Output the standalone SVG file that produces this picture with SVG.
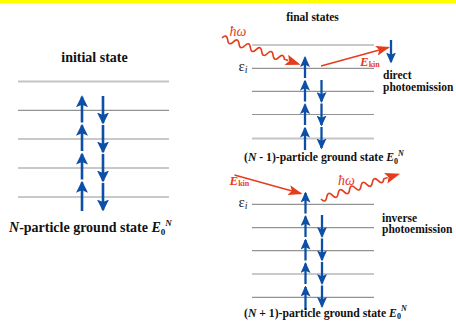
<svg xmlns="http://www.w3.org/2000/svg" width="456" height="321" viewBox="0 0 456 321">
<style>
.lv{stroke:#939393;stroke-width:1.2;fill:none}
.lv2{stroke:#c4c4c4;stroke-width:1.8;fill:none}
.bl{stroke:#0d4fa6;stroke-width:2.6;fill:none}
.bs{stroke:#0d4fa6;stroke-width:2.3;fill:none}
.rd{stroke:#e63c1e;stroke-width:1.6;fill:none}
.t{font-family:"Liberation Serif",serif;font-weight:bold;fill:#111}
.ti{font-style:italic}
.r{font-family:"Liberation Serif",serif;fill:#e63c1e;font-style:italic}
.eps{font-family:"Liberation Serif",serif;fill:#222;font-size:15px}
</style>
<defs>
<marker id="bh" markerUnits="userSpaceOnUse" markerWidth="12" markerHeight="12" refX="10.5" refY="6" orient="auto" viewBox="0 0 12 12">
<path d="M0,0 L12,6 L0,12 L2.5,6 Z" fill="#0d4fa6"/>
</marker>
<marker id="bhs" markerUnits="userSpaceOnUse" markerWidth="11" markerHeight="10" refX="9.5" refY="5" orient="auto" viewBox="0 0 11 10">
<path d="M0,0 L11,5 L0,10 L2.2,5 Z" fill="#0d4fa6"/>
</marker>
<marker id="rh" markerUnits="userSpaceOnUse" markerWidth="14" markerHeight="10" refX="12.5" refY="5" orient="auto" viewBox="0 0 14 10">
<path d="M0,0 L14,5 L0,10 L3,5 Z" fill="#e63c1e"/>
</marker>
</defs>
<rect x="0" y="0" width="456" height="3.3" fill="#ffff00"/>

<g id="initial-state">
<text class="t" x="94.5" y="62" font-size="14" text-anchor="middle">initial state</text>
<line class="lv2" x1="18" y1="81.5" x2="169" y2="81.5"/>
<line class="lv" x1="18" y1="110.3" x2="169" y2="110.3"/>
<line class="lv" x1="18" y1="139" x2="169" y2="139"/>
<line class="lv" x1="18" y1="168" x2="169" y2="168"/>
<line class="lv" x1="18" y1="197" x2="169" y2="197"/>
<g class="bl" marker-end="url(#bh)">
<line x1="82" y1="122.5" x2="82" y2="96.7"/>
<line x1="82" y1="151" x2="82" y2="125.3"/>
<line x1="82" y1="179.5" x2="82" y2="154"/>
<line x1="82" y1="211" x2="82" y2="182.3"/>
<line x1="103" y1="96" x2="103" y2="123"/>
<line x1="103" y1="125" x2="103" y2="152"/>
<line x1="103" y1="154" x2="103" y2="181"/>
<line x1="103" y1="183" x2="103" y2="210"/>
</g>
<text class="t" x="9" y="231.5" font-size="14"><tspan class="ti">N</tspan>-particle ground state <tspan class="ti">E</tspan><tspan font-size="9" dy="3">0</tspan><tspan class="ti" font-size="9" dy="-9">N</tspan></text>
</g>

<g id="direct-photoemission">
<text class="t" x="312.5" y="21" font-size="11.5" text-anchor="middle">final states</text>
<line class="lv" x1="252" y1="45" x2="374" y2="45"/>
<line class="lv" x1="252" y1="68.3" x2="374" y2="68.3"/>
<line class="lv" x1="252" y1="91.3" x2="374" y2="91.3"/>
<line class="lv" x1="252" y1="114.5" x2="374" y2="114.5"/>
<line class="lv2" x1="252" y1="138.5" x2="374" y2="138.5"/>
<text class="eps" x="238.5" y="70.5">ε<tspan font-size="10" font-style="italic" dy="2">i</tspan></text>
<g class="bs" marker-end="url(#bhs)">
<line x1="305" y1="78" x2="305" y2="57.5"/>
<line x1="305" y1="101.5" x2="305" y2="81"/>
<line x1="305" y1="125" x2="305" y2="104.5"/>
<line x1="305" y1="150" x2="305" y2="128"/>
<line x1="321.5" y1="80" x2="321.5" y2="101.5"/>
<line x1="321.5" y1="103.5" x2="321.5" y2="125"/>
<line x1="321.5" y1="127" x2="321.5" y2="148"/>
<line x1="391" y1="40" x2="391" y2="62"/>
</g>
<g transform="translate(222,38) rotate(18.8)">
<path class="rd" d="M0,0 Q3,-6 6,0 T12,0 T18,0 T24,0 T30,0 T36,0 T42,0 T48,0 T54,0 T60,0 T66,0 L70,0"/>
<path d="M83,0 L68,-5.5 L71,0 L68,5.5 Z" fill="#e63c1e"/>
</g>
<text class="r" x="229.5" y="36" font-size="14">ħω</text>
<line class="rd" x1="321" y1="66" x2="388.5" y2="47.5" marker-end="url(#rh)"/>
<text class="r" x="360" y="65.5" font-size="13" font-weight="bold">E<tspan font-size="8" font-style="normal" dy="1">kin</tspan></text>
<text class="t" x="383" y="78.5" font-size="11.5">direct</text>
<text class="t" x="383" y="90.5" font-size="11.5">photoemission</text>
<text class="t" x="244" y="161" font-size="11.7">(<tspan class="ti">N</tspan> - 1)-particle ground state <tspan class="ti">E</tspan><tspan font-size="8" dy="2.5">0</tspan><tspan class="ti" font-size="8" dy="-8">N</tspan></text>
</g>

<g id="inverse-photoemission">
<line class="lv" x1="252" y1="204.3" x2="374" y2="204.3"/>
<line class="lv" x1="252" y1="227.7" x2="374" y2="227.7"/>
<line class="lv" x1="252" y1="250.7" x2="374" y2="250.7"/>
<line class="lv" x1="252" y1="274" x2="374" y2="274"/>
<line class="lv" x1="252" y1="297.3" x2="374" y2="297.3"/>
<text class="eps" x="238.5" y="206.5">ε<tspan font-size="10" font-style="italic" dy="2">i</tspan></text>
<g class="bs" marker-end="url(#bhs)">
<line x1="305.5" y1="213.5" x2="305.5" y2="193"/>
<line x1="305.5" y1="237" x2="305.5" y2="216.5"/>
<line x1="305.5" y1="260.5" x2="305.5" y2="240"/>
<line x1="305.5" y1="284" x2="305.5" y2="263.5"/>
<line x1="305.5" y1="310" x2="305.5" y2="287"/>
<line x1="322" y1="215" x2="322" y2="236.5"/>
<line x1="322" y1="238.5" x2="322" y2="260"/>
<line x1="322" y1="262" x2="322" y2="283.5"/>
<line x1="322" y1="285.5" x2="322" y2="306.5"/>
</g>
<line class="rd" x1="234.5" y1="175" x2="301" y2="193.5" marker-end="url(#rh)"/>
<text class="r" x="229.5" y="185" font-size="13" font-weight="bold">E<tspan font-size="8" font-style="normal" dy="1">kin</tspan></text>
<g transform="translate(321,199) rotate(-17.8)">
<path class="rd" d="M0,0 Q3,6 6,0 T12,0 T18,0 T24,0 T30,0 T36,0 T42,0 T48,0 T54,0 T60,0 T66,0 L70,0"/>
<path d="M83,0 L68,-5.5 L71,0 L68,5.5 Z" fill="#e63c1e"/>
</g>
<text class="r" x="338" y="185" font-size="14">ħω</text>
<text class="t" x="382" y="221.5" font-size="11.5">inverse</text>
<text class="t" x="382" y="233" font-size="11.5">photoemission</text>
<text class="t" x="244" y="316.5" font-size="11.7">(<tspan class="ti">N</tspan> + 1)-particle ground state <tspan class="ti">E</tspan><tspan font-size="8" dy="2.5">0</tspan><tspan class="ti" font-size="8" dy="-8">N</tspan></text>
</g>
</svg>
